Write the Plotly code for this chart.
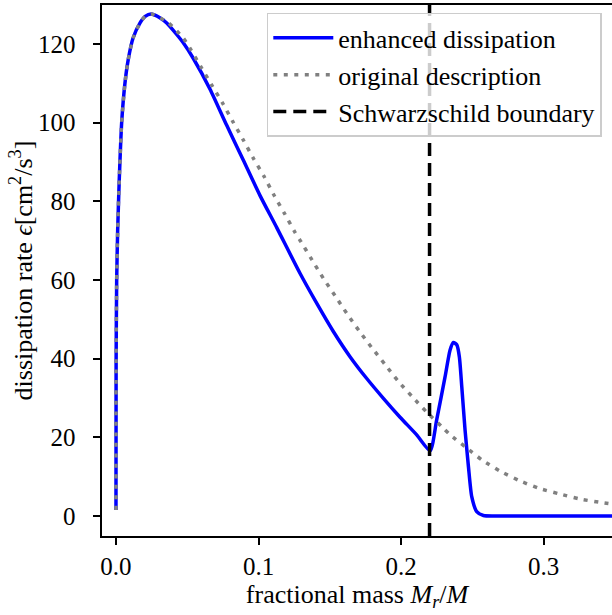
import plotly.graph_objects as go

# enhanced dissipation (blue)
enh_x = [0.0, 0.0001, 0.0005, 0.0012, 0.0023, 0.004, 0.0063, 0.0086, 0.012, 0.0168,
         0.0205, 0.0246, 0.031, 0.0356, 0.0426, 0.0472, 0.0543, 0.066, 0.0777, 0.0893, 0.101,
         0.1128, 0.1291, 0.1408, 0.1525, 0.1642, 0.1758, 0.1876, 0.1993, 0.211,
         0.2204, 0.225, 0.2309, 0.2344, 0.2367, 0.2391, 0.2409, 0.2426, 0.2449, 0.2473,
         0.2496, 0.2531, 0.2578, 0.27, 0.35]
enh_y = [1.5, 39.0, 60.0, 72.7, 85.4, 100.0, 110.0, 116.0, 121.5, 125.3,
         127.0, 127.6, 126.6, 125.3, 122.4, 120.3, 116.3, 108.5, 99.3, 90.5, 81.5,
         73.3, 61.7, 54.1, 46.9, 40.5, 35.0, 29.9, 25.1, 20.6,
         16.6, 24.4, 35.4, 42.2, 44.1, 43.5, 40.5, 32.9, 21.9, 12.5,
         4.9, 1.1, 0.1, 0.0, 0.0]

# original description (gray dotted)
orig_x = [0.0, 0.0001, 0.0005, 0.0012, 0.0023, 0.004, 0.0063, 0.0086, 0.012, 0.0168,
          0.0205, 0.0246, 0.030, 0.0367, 0.0472, 0.0519, 0.0594, 0.0671, 0.0749, 0.0819,
          0.0893, 0.0964, 0.1039, 0.1111, 0.1184, 0.1256, 0.1298, 0.1375, 0.1455, 0.1537,
          0.1619, 0.1705, 0.1792, 0.1886, 0.1979, 0.2079, 0.218, 0.2286, 0.2339, 0.2456,
          0.2573, 0.27, 0.2835, 0.297, 0.3111, 0.3256, 0.3408, 0.355]
orig_y = [1.5, 39.0, 60.0, 72.7, 85.4, 100.0, 110.0, 116.0, 121.5, 125.3,
          127.0, 127.6, 126.8, 125.4, 121.5, 118.9, 114.3, 109.6, 104.9, 100.3,
          95.6, 90.9, 86.3, 81.4, 76.8, 72.1, 69.7, 65.1, 60.4, 56.0,
          51.5, 47.1, 42.9, 38.6, 34.3, 30.3, 26.4, 22.7, 20.8, 17.4,
          14.1, 11.3, 8.9, 7.0, 5.6, 4.3, 3.4, 2.7]

boundary_x = [0.22, 0.22]
boundary_y = [-5.1, 130.0]

x_ticks = [0.0, 0.1, 0.2, 0.3]
x_tick_labels = ["0.0", "0.1", "0.2", "0.3"]
y_ticks = [0, 20, 40, 60, 80, 100, 120]
y_tick_labels = ["0", "20", "40", "60", "80", "100", "120"]

FONT = "Liberation Serif, DejaVu Serif, serif"
FS = 26
TFS = 25

fig = go.Figure()
fig.add_trace(go.Scatter(x=enh_x, y=enh_y, mode="lines", name="enhanced dissipation",
                         line=dict(color="#0000ff", width=3.5, shape="spline", smoothing=0.6)))
fig.add_trace(go.Scatter(x=orig_x, y=orig_y, mode="lines", name="original description",
                         line=dict(color="#808080", width=3.5, dash="4px,6.5px",
                                   shape="spline", smoothing=0.6)))
fig.add_trace(go.Scatter(x=boundary_x, y=boundary_y, mode="lines", name="Schwarzschild boundary",
                         line=dict(color="#000000", width=3.5, dash="13px,7px")))

fig.update_layout(
    width=612, height=615,
    margin=dict(l=102, r=0, t=5, b=79),
    paper_bgcolor="white", plot_bgcolor="white",
    font=dict(family=FONT, size=FS, color="black"),
    showlegend=True,
    legend=dict(x=0.98, y=0.985, xanchor="right", yanchor="top", itemwidth=60,
                bgcolor="rgba(255,255,255,0.8)", bordercolor="#cccccc", borderwidth=1.5,
                font=dict(family=FONT, size=FS)),
    xaxis=dict(range=[-0.0098, 0.348], tickvals=x_ticks, ticktext=x_tick_labels,
               showgrid=False, zeroline=False, showline=True, linecolor="black", linewidth=1.8,
               mirror=True, ticks="outside", ticklen=7, tickwidth=1.6, tickcolor="black",
               tickfont=dict(family=FONT, size=TFS),
               title=dict(text="fractional mass <i>M<sub>r</sub></i>/<i>M</i>", standoff=4,
                          font=dict(family=FONT, size=FS))),
    yaxis=dict(range=[-5.1, 129.9], tickvals=y_ticks,
               ticktext=[t + "\u2007" for t in y_tick_labels],
               showgrid=False, zeroline=False, showline=True, linecolor="black", linewidth=1.8,
               ticks="outside", ticklen=7, tickwidth=1.6, tickcolor="black",
               tickfont=dict(family=FONT, size=TFS)),
    annotations=[dict(text="dissipation rate <i>ϵ</i>[cm<sup>2</sup>/s<sup>3</sup>]",
                      xref="paper", yref="paper", x=-0.157, y=0.5, xanchor="center",
                      yanchor="middle", textangle=-90, showarrow=False,
                      font=dict(family=FONT, size=FS))],
)

fig.write_html("out.html")
